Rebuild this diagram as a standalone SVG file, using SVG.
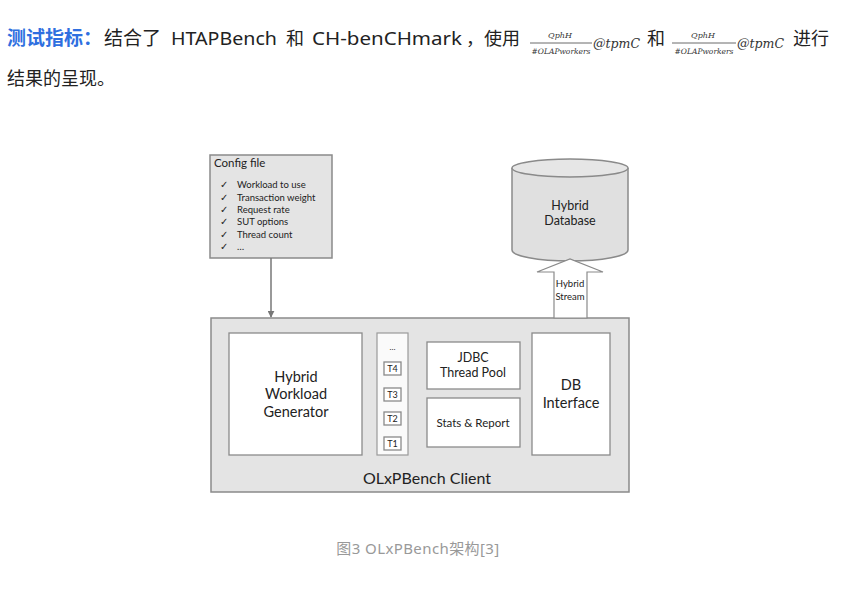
<svg xmlns="http://www.w3.org/2000/svg" width="861" height="589" viewBox="0 0 861 589">
<defs>
<style>
.hd{font-family:"Noto Sans","Noto Sans CJK SC",sans-serif;font-size:18px;fill:#222}
.blue{fill:#2f6fe0;font-weight:bold}
.math{font-family:"DejaVu Serif","Liberation Serif",serif;font-style:italic;fill:#333}
.d{font-family:Lato,"Open Sans","Liberation Sans",sans-serif;fill:#222;text-anchor:middle}
.l{font-family:Lato,"Open Sans","Liberation Sans",sans-serif;fill:#222}
.box{fill:#ffffff;stroke:#8a8a8a;stroke-width:1.3}
.gbox{fill:#e4e4e4;stroke:#8a8a8a;stroke-width:1.5}
.cap{font-family:"Noto Sans","Noto Sans CJK SC",sans-serif;font-size:15px;fill:#999;text-anchor:middle;letter-spacing:0.4px}
</style>
<marker id="ah" viewBox="0 0 10 10" refX="9" refY="5" markerWidth="7" markerHeight="7" orient="auto" markerUnits="userSpaceOnUse">
<path d="M0,0 L10,5 L0,10 z" fill="#777"/>
</marker>
</defs>
<rect width="861" height="589" fill="#ffffff"/>

<g id="header">
<text class="hd blue" x="7" y="45" style="font-size:19px">测试指标：</text>
<text class="hd" x="104" y="45" style="font-size:19px">结合了</text>
<text class="hd" x="171" y="45" textLength="106" lengthAdjust="spacingAndGlyphs">HTAPBench</text>
<text class="hd" x="286" y="45">和</text>
<text class="hd" x="312" y="45" textLength="150" lengthAdjust="spacingAndGlyphs">CH-benCHmark</text>
<text class="hd" x="466" y="45">，</text>
<text class="hd" x="484" y="45">使用</text>
<g id="frac1">
<text class="math" x="560" y="38" font-size="8" text-anchor="middle">QphH</text>
<line x1="530" y1="43" x2="592" y2="43" stroke="#444" stroke-width="0.8"/>
<text class="math" x="561" y="54" font-size="7.5" text-anchor="middle">#OLAPworkers</text>
<text class="math" x="593" y="48" font-size="12.5">@tpmC</text>
</g>
<text class="hd" x="647" y="45">和</text>
<g id="frac2">
<text class="math" x="703" y="38" font-size="8" text-anchor="middle">QphH</text>
<line x1="672" y1="43" x2="736" y2="43" stroke="#444" stroke-width="0.8"/>
<text class="math" x="704" y="54" font-size="7.5" text-anchor="middle">#OLAPworkers</text>
<text class="math" x="737" y="48" font-size="12.5">@tpmC</text>
</g>
<text class="hd" x="793" y="45">进行</text>
<text class="hd" x="7" y="85">结果的呈现。</text>
</g>

<g id="client">
<rect class="gbox" x="211" y="318" width="418" height="174"/>
<text class="d" x="427" y="484" font-size="16" fill="#111">OLxPBench Client</text>
</g>

<g id="config">
<rect class="gbox" x="210" y="155" width="122" height="103" fill="#e6e6e6"/>
<text class="l" x="214" y="167" font-size="11.5">Config file</text>
<g font-size="10" font-family="DejaVu Sans,sans-serif" fill="#222">
<text x="220" y="188">✓</text><text x="220" y="201">✓</text><text x="220" y="213">✓</text>
<text x="220" y="225">✓</text><text x="220" y="238">✓</text><text x="220" y="250">✓</text>
</g>
<text class="l" x="237" y="188" font-size="9.5">Workload to use</text>
<text class="l" x="237" y="201" font-size="9.5">Transaction weight</text>
<text class="l" x="237" y="213" font-size="9.5">Request rate</text>
<text class="l" x="237" y="225" font-size="9.5">SUT options</text>
<text class="l" x="237" y="238" font-size="9.5" fill="#555">Thread count</text>
<text class="l" x="237" y="250" font-size="9.5">…</text>
</g>

<g id="database">
<path d="M512,168 L512,250 A58,11 0 0 0 628,250 L628,168" fill="#e0e0e0" stroke="#8a8a8a" stroke-width="1.5"/>
<ellipse cx="570" cy="168" rx="58" ry="9" fill="#e6e6e6" stroke="#8a8a8a" stroke-width="1.5"/>
<text class="d" x="570" y="210" font-size="12.5">Hybrid</text>
<text class="d" x="570" y="225" font-size="12.5">Database</text>
</g>

<g id="generator">
<rect class="box" x="229" y="333" width="133" height="122"/>
<text class="d" x="296" y="382" font-size="14.5">Hybrid</text>
<text class="d" x="296" y="399" font-size="14.5">Workload</text>
<text class="d" x="296" y="417" font-size="14.5">Generator</text>
</g>

<g id="threads">
<rect x="377" y="333" width="31" height="122" fill="#fafafa" stroke="#9a9a9a" stroke-width="1.2"/>
<text class="d" x="392.5" y="350" font-size="8" fill="#777">…</text>
<rect class="box" x="384" y="362" width="17" height="13" stroke="#666"/>
<text class="d" x="392.5" y="372" font-size="9">T4</text>
<rect class="box" x="384" y="388" width="17" height="13" stroke="#666"/>
<text class="d" x="392.5" y="398" font-size="9">T3</text>
<rect class="box" x="384" y="412" width="17" height="13" stroke="#666"/>
<text class="d" x="392.5" y="422" font-size="9">T2</text>
<rect class="box" x="384" y="437" width="17" height="13" stroke="#666"/>
<text class="d" x="392.5" y="447" font-size="9">T1</text>
</g>

<g id="jdbc">
<rect class="box" x="427" y="342" width="93" height="47"/>
<text class="d" x="473" y="362" font-size="12.5">JDBC</text>
<text class="d" x="473" y="377" font-size="12.5">Thread Pool</text>
</g>

<g id="stats">
<rect class="box" x="427" y="398" width="93" height="49"/>
<text class="d" x="473" y="427" font-size="11.5">Stats &amp; Report</text>
</g>

<g id="dbinterface">
<rect class="box" x="532" y="333" width="78" height="122"/>
<text class="d" x="571" y="390" font-size="14.5">DB</text>
<text class="d" x="571" y="408" font-size="14.5">Interface</text>
</g>

<g id="connectors">
<line x1="271" y1="258" x2="271" y2="317" stroke="#777" stroke-width="1.5" marker-end="url(#ah)"/>
<g id="hybrid-stream">
<path d="M554,318 L554,272 L537,272 L570,259 L603,272 L587,272 L587,318 z" fill="#ffffff" stroke="#8a8a8a" stroke-width="1.2"/>
<text class="d" x="570" y="287" font-size="9.5">Hybrid</text>
<text class="d" x="570" y="300" font-size="9.5">Stream</text>
</g>
</g>

<text class="cap" x="418" y="554">图3 OLxPBench架构[3]</text>
</svg>
